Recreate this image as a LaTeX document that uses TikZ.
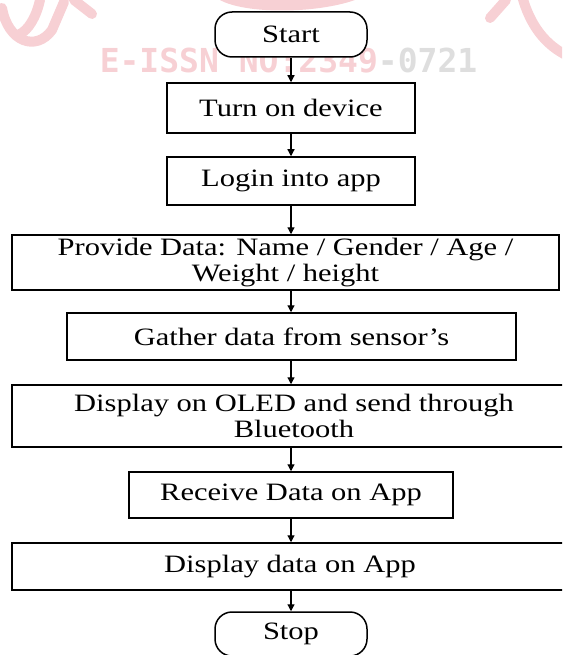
\documentclass[tikz,border=0pt]{standalone}
\usepackage{fontspec}
\setmainfont{Liberation Serif}[FakeStretch=1.22]
\newfontfamily\wmfont{DejaVu Sans Mono}
\usetikzlibrary{arrows.meta}
\definecolor{wmpink}{RGB}{247,208,212}
\definecolor{wmgray}{RGB}{222,222,222}

\begin{document}
\begin{tikzpicture}[x=1pt,y=-1pt]
    % styles
    \tikzset{
      stepbox/.style  = {draw=black, line width=1.5pt, fill=white, inner sep=0pt,
                         align=center, font=\fontsize{25}{26}\selectfont},
      endbox/.style   = {stepbox, rounded corners=17pt},
      flow/.style     = {-{Triangle[length=7pt,width=7pt]}, line width=1.2pt, draw=black},
      wmstroke/.style = {line width=10pt, draw=wmpink, line cap=round}
    }
    \useasboundingbox (0,0) rectangle (562,655);
    \clip (0,0) rectangle (562,655);

    % Watermark behind the chart:
    \draw[wmstroke] (2,8) .. controls (8,42) and (36,52) .. (52,30) -- (64,2);
    \draw[wmstroke] (40,0) .. controls (36,18) and (28,30) .. (20,34);
    \draw[wmstroke] (74,0) -- (92,14);
    \fill[wmpink] (220,0) .. controls (245,14) and (315,14) .. (355,0) -- cycle;
    \draw[wmstroke] (490,18) -- (506,0);
    \draw[wmstroke] (522,-4) .. controls (530,25) and (545,45) .. (568,56);
    \node[text=wmpink, inner sep=0pt, font=\wmfont\bfseries\fontsize{33}{33}\selectfont]
      (wmark) at (288.5,60.5) {E-ISSN NO:2349\textcolor{wmgray}{-0721}};

    % Steps:
    \node[endbox, minimum width=152pt, minimum height=45pt] (start) at (291,34.5) {Start};
    \node[stepbox, minimum width=248pt, minimum height=50pt] (turn) at (291,108) {Turn on device};
    \node[stepbox, minimum width=248pt, minimum height=48pt] (login) at (291,181) {Login into app};
    \node[stepbox, minimum width=547pt, minimum height=55pt] (provide) at (285.5,262.5)
      {Provide Data: Name / Gender / Age /\\ Weight / height};
    \node[stepbox, minimum width=449pt, minimum height=47pt] (gather) at (291.5,336.5)
      {Gather data from sensor's};
    \node[stepbox, minimum width=564pt, minimum height=62pt] (oled) at (294,416)
      {Display on OLED and send through\\ Bluetooth};
    \node[stepbox, minimum width=324pt, minimum height=46pt] (receive) at (291,495)
      {Receive Data on App};
    \node[stepbox, minimum width=556pt, minimum height=47pt] (display) at (290,566.5)
      {Display data on App};
    \node[endbox, minimum width=152pt, minimum height=44pt] (stop) at (291,634) {Stop};

    % Arrows:
    \draw[flow] (start.south -| start) -- (turn.north -| start);
    \draw[flow] (turn.south -| start) -- (login.north -| start);
    \draw[flow] (login.south -| start) -- (provide.north -| start);
    \draw[flow] (provide.south -| start) -- (gather.north -| start);
    \draw[flow] (gather.south -| start) -- (oled.north -| start);
    \draw[flow] (oled.south -| start) -- (receive.north -| start);
    \draw[flow] (receive.south -| start) -- (display.north -| start);
    \draw[flow] (display.south -| start) -- (stop.north -| start);
\end{tikzpicture}
\end{document}
